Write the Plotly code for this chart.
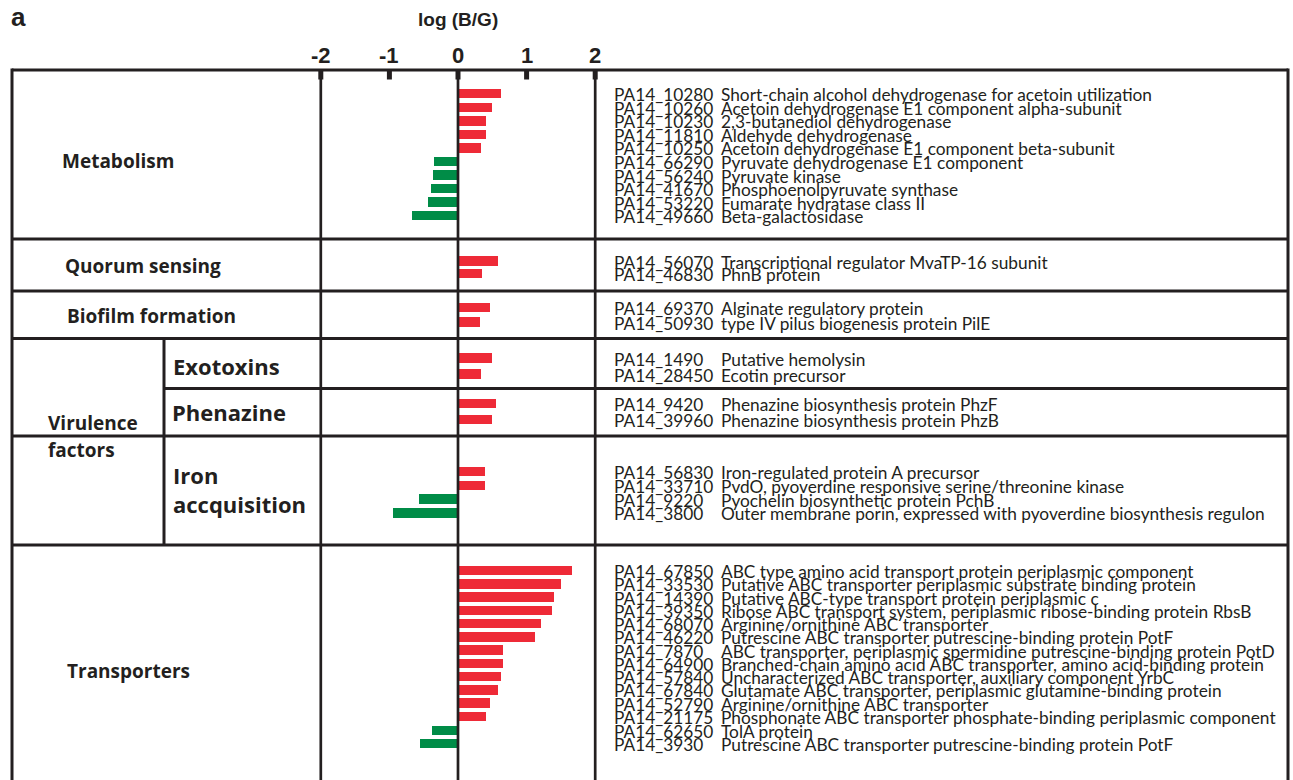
import plotly.graph_objects as go

# ---- data -------------------------------------------------------------
section_names = ["Metabolism", "Quorum sensing", "Biofilm formation",
                 "Exotoxins", "Phenazine", "Iron accquisition", "Transporters"]

metabolism_ids = ["PA14_10280", "PA14_10260", "PA14_10230", "PA14_11810", "PA14_10250",
                  "PA14_66290", "PA14_56240", "PA14_41670", "PA14_53220", "PA14_49660"]
metabolism_desc = ["Short-chain alcohol dehydrogenase for acetoin utilization",
                   "Acetoin dehydrogenase E1 component alpha-subunit",
                   "2,3-butanediol dehydrogenase",
                   "Aldehyde dehydrogenase",
                   "Acetoin dehydrogenase E1 component beta-subunit",
                   "Pyruvate dehydrogenase E1 component",
                   "Pyruvate kinase",
                   "Phosphoenolpyruvate synthase",
                   "Fumarate hydratase class II",
                   "Beta-galactosidase"]
metabolism_values = [0.62, 0.49, 0.41, 0.41, 0.33, -0.35, -0.37, -0.39, -0.44, -0.67]

quorum_ids = ["PA14_56070", "PA14_46830"]
quorum_desc = ["Transcriptional regulator MvaTP-16 subunit", "PhnB protein"]
quorum_values = [0.59, 0.35]

biofilm_ids = ["PA14_69370", "PA14_50930"]
biofilm_desc = ["Alginate regulatory protein", "type IV pilus biogenesis protein PilE"]
biofilm_values = [0.47, 0.32]

exotoxin_ids = ["PA14_1490", "PA14_28450"]
exotoxin_desc = ["Putative hemolysin", "Ecotin precursor"]
exotoxin_values = [0.49, 0.34]

phenazine_ids = ["PA14_9420", "PA14_39960"]
phenazine_desc = ["Phenazine biosynthesis protein PhzF", "Phenazine biosynthesis protein PhzB"]
phenazine_values = [0.56, 0.49]

iron_ids = ["PA14_56830", "PA14_33710", "PA14_9220", "PA14_3800"]
iron_desc = ["Iron-regulated protein A precursor",
             "PvdO, pyoverdine responsive serine/threonine kinase",
             "Pyochelin biosynthetic protein PchB",
             "Outer membrane porin, expressed with pyoverdine biosynthesis regulon"]
iron_values = [0.40, 0.39, -0.57, -0.95]

transporter_ids = ["PA14_67850", "PA14_33530", "PA14_14390", "PA14_39350", "PA14_68070",
                   "PA14_46220", "PA14_7870", "PA14_64900", "PA14_57840", "PA14_67840",
                   "PA14_52790", "PA14_21175", "PA14_62650", "PA14_3930"]
transporter_desc = ["ABC type amino acid transport protein periplasmic component",
                    "Putative ABC transporter periplasmic substrate binding protein",
                    "Putative ABC-type transport protein periplasmic c",
                    "Ribose ABC transport system, periplasmic ribose-binding protein RbsB",
                    "Arginine/ornithine ABC transporter",
                    "Putrescine ABC transporter putrescine-binding protein PotF",
                    "ABC transporter, periplasmic spermidine putrescine-binding protein PotD",
                    "Branched-chain amino acid ABC transporter, amino acid-binding protein",
                    "Uncharacterized ABC transporter, auxiliary component YrbC",
                    "Glutamate ABC transporter, periplasmic glutamine-binding protein",
                    "Arginine/ornithine ABC transporter",
                    "Phosphonate ABC transporter phosphate-binding periplasmic component",
                    "TolA protein",
                    "Putrescine ABC transporter putrescine-binding protein PotF"]
transporter_values = [1.66, 1.50, 1.40, 1.37, 1.21, 1.12, 0.66, 0.65, 0.62, 0.59,
                      0.46, 0.41, -0.38, -0.56]

tick_values = [-2, -1, 0, 1, 2]
tick_labels = ["-2", "-1", "0", "1", "2"]

# ---- layout geometry (figure pixels) -----------------------------------
W, H = 1293, 780
ZERO_PX, UNIT_PX = 458.0, 68.6          # x position of log ratio 0, pixels per unit
X_MIN = -ZERO_PX / UNIT_PX
X_MAX = (W - ZERO_PX) / UNIT_PX

# row blocks: (first row centre, row pitch, number of rows)
blocks = [
    (metabolism_ids, metabolism_desc, metabolism_values, [(93.7, 13.55, 10)]),
    (quorum_ids, quorum_desc, quorum_values, [(261.0, 12.5, 2)]),
    (biofilm_ids, biofilm_desc, biofilm_values, [(307.5, 14.5, 2)]),
    (exotoxin_ids, exotoxin_desc, exotoxin_values, [(358.0, 16.0, 2)]),
    (phenazine_ids, phenazine_desc, phenazine_values, [(403.7, 15.6, 2)]),
    (iron_ids, iron_desc, iron_values, [(471.7, 13.7, 4)]),
    (transporter_ids, transporter_desc, transporter_values,
     [(570.7, 13.24, 12), (730.7, 13.0, 2)]),
]

RED = "#ee2a37"
GREEN = "#008c47"
INK = "#231f20"
GENE_FONT = dict(family="Lato", size=17.3, color=INK)
CAT_FONT = "Open Sans"

ys, xs, colors, annotations = [], [], [], []
for ids, desc, vals, rows in blocks:
    pos = []
    for y0, pitch, n in rows:
        pos += [y0 + i * pitch for i in range(n)]
    for y, gid, d, v in zip(pos, ids, desc, vals):
        ys.append(y)
        xs.append(v)
        colors.append(RED if v > 0 else GREEN)
        annotations.append(dict(x=612 / W, xref="paper", y=y + 1, yref="y", text=gid,
                                showarrow=False, xanchor="left", yanchor="middle",
                                font=GENE_FONT))
        annotations.append(dict(x=719 / W, xref="paper", y=y + 1, yref="y", text=d,
                                showarrow=False, xanchor="left", yanchor="middle",
                                font=GENE_FONT))

fig = go.Figure()
fig.add_trace(go.Bar(x=xs, y=ys, orientation="h", width=9.5,
                     marker=dict(color=colors, line=dict(width=0)),
                     hoverinfo="x", showlegend=False))

# ---- table grid --------------------------------------------------------
shapes = []


def hline(y, x0=12, x1=1288):
    shapes.append(dict(type="line", xref="paper", yref="y", x0=x0 / W, x1=x1 / W,
                       y0=y, y1=y, line=dict(color=INK, width=3)))


def vline_px(x, y0, y1=H):
    shapes.append(dict(type="line", xref="paper", yref="y", x0=x / W, x1=x / W,
                       y0=y0, y1=y1, line=dict(color=INK, width=3)))


def vline_val(v, y0, y1=H):
    shapes.append(dict(type="line", xref="x", yref="y", x0=v, x1=v,
                       y0=y0, y1=y1, line=dict(color=INK, width=2.7)))


for y in [70, 239, 291, 338.5, 436, 545]:
    hline(y)
hline(388.5, x0=164)
vline_px(12, 68.5)
vline_px(1288, 68.5)
vline_px(164, 338.5, 545)
for v in [-2, 0, 2]:
    vline_val(v, 70)
# short axis ticks under the top rule
for v in tick_values:
    shapes.append(dict(type="line", xref="x", yref="y", x0=v, x1=v, y0=70, y1=79.5,
                       line=dict(color=INK, width=5)))

# axis tick labels and title
for v, lab in zip(tick_values, tick_labels):
    annotations.append(dict(x=v, xref="x", y=55, yref="y", text=f"<b>{lab}</b>",
                            showarrow=False, xanchor="center", yanchor="middle",
                            font=dict(family="Liberation Sans", size=22, color=INK)))
annotations.append(dict(x=0, xref="x", y=19, yref="y", text="<b>log (B/G)</b>",
                        showarrow=False, xanchor="center", yanchor="middle",
                        font=dict(family="Liberation Sans", size=19, color=INK)))
annotations.append(dict(x=9 / W, xref="paper", y=17, yref="y", text="<b>a</b>",
                        showarrow=False, xanchor="left", yanchor="middle",
                        font=dict(family="Liberation Sans", size=26, color=INK)))

# category labels: (text, left x, centre y, size)
cat_labels = [
    ("Metabolism", 60, 161, 19),
    ("Quorum sensing", 63, 266, 19),
    ("Biofilm formation", 65, 316, 19),
    ("Virulence", 46, 423, 19),
    ("factors", 46, 450, 19),
    ("Exotoxins", 171, 366, 22),
    ("Phenazine", 170, 412, 22),
    ("Iron", 171, 475, 22),
    ("accquisition", 171, 504, 22),
    ("Transporters", 65, 671, 19),
]
for txt, x, y, size in cat_labels:
    annotations.append(dict(x=x / W, xref="paper", y=y, yref="y", text=f"<b>{txt}</b>",
                            showarrow=False, xanchor="left", yanchor="middle",
                            font=dict(family=CAT_FONT, size=size, color=INK)))

fig.update_layout(
    width=W, height=H,
    margin=dict(l=0, r=0, t=0, b=0),
    paper_bgcolor="white", plot_bgcolor="white",
    barmode="overlay", bargap=0,
    xaxis=dict(range=[X_MIN, X_MAX], visible=False, fixedrange=True),
    yaxis=dict(range=[H, 0], visible=False, fixedrange=True),
    shapes=shapes, annotations=annotations,
    showlegend=False,
)

fig.write_html("out.html")
